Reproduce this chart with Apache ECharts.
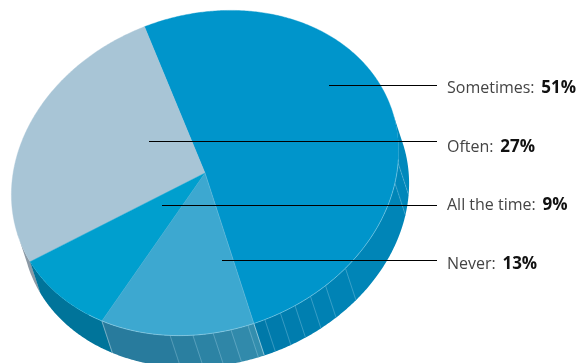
<!DOCTYPE html>
<html>
<head>
<meta charset="utf-8">
<style>html,body{margin:0;padding:0;background:#fff}#c{width:583px;height:363px}</style>
<script src="https://cdn.jsdelivr.net/npm/echarts@6/dist/echarts.min.js"></script>
</head>
<body>
<div id="c"></div>
<script>
// Survey answers, in the order they run anticlockwise round the disc
const categories = ['Sometimes', 'Often', 'All the time', 'Never'];
const shares = [51, 27, 9, 13];
const topColors = ['#0095cb', '#a8c5d6', '#009fce', '#3da8d0'];
// Rim colours at the two ends of each slice's side wall
const wallColorsFrom = ['#0078a8', '#8b9aa6', '#00749a', '#27799b'];
const wallColorsTo = ['#008abd', '#8b9aa6', '#00749a', '#3490b0'];
// Where the facet seams fall on the rim, in ellipse degrees
const rimSeams = [115.5, 108.7, 102.7, 97.4, 92.3, 87.1, 82.2, 77.4, 72.1, 66.6, 58.6, 26.3, 19.2];
// Leader line height, left end and label centre for each slice
const leaderY = [85, 141, 205, 260];
const leaderStartX = [329, 149, 162, 222];
const labelY = [88, 147, 205, 264];

const centre = [205, 173];
const semiMajor = 197.2, semiMinor = 158.2, tilt = -18.6 * Math.PI / 180;
const drop = [10.5, 32];
const firstAngle = 90.5;
const leaderEndX = 437, labelX = 447;

// Point on the tilted rim ellipse at parameter angle deg
function rim(deg, offset) {
  const t = deg * Math.PI / 180;
  const u = semiMajor * Math.cos(t), v = semiMinor * Math.sin(t);
  const o = offset ? drop : [0, 0];
  return [
    centre[0] + u * Math.cos(tilt) - v * Math.sin(tilt) + o[0],
    centre[1] + u * Math.sin(tilt) + v * Math.cos(tilt) + o[1]
  ];
}
function arc(a0, a1, offset) {
  const n = Math.max(2, Math.ceil(Math.abs(a1 - a0) / 0.5));
  const pts = [];
  for (let i = 0; i <= n; i++) pts.push(rim(a0 + (a1 - a0) * i / n, offset));
  return pts;
}
// Start and end angle of slice i; the slices step backwards from firstAngle
function sliceSpan(i) {
  const total = shares.reduce((a, b) => a + b, 0);
  const before = shares.slice(0, i).reduce((a, b) => a + b, 0);
  return [firstAngle - before / total * 360, firstAngle - (before + shares[i]) / total * 360];
}
function mix(c0, c1, k) {
  const p = c => [1, 3, 5].map(j => parseInt(c.substr(j, 2), 16));
  const a = p(c0), b = p(c1);
  return 'rgb(' + a.map((v, j) => Math.round(v + (b[j] - v) * k)).join(',') + ')';
}
function seam(deg, stroke, width) {
  const p = rim(deg, false), q = rim(deg, true);
  return {
    type: 'line',
    shape: { x1: p[0], y1: p[1], x2: q[0], y2: q[1] },
    style: { stroke: stroke, lineWidth: width }
  };
}

function renderWall(params) {
  const i = params.dataIndex;
  let [a0, a1] = sliceSpan(i);
  if (a0 <= 0) { a0 += 360; a1 += 360; }
  // Only the front half of the wall can be seen, so nothing is drawn behind the disc
  const fullA0 = a0, fullA1 = a1;
  a0 = Math.min(a0, 181);
  a1 = Math.max(a1, -1);
  // Cut the span at any seam inside it
  const inside = rimSeams.filter(s => s < a0 && s > a1).sort((x, y) => y - x);
  const cuts = [a0].concat(inside, [a1]);
  const children = [];
  for (let k = 0; k < cuts.length - 1; k++) {
    const fill = mix(wallColorsFrom[i], wallColorsTo[i], (k + 0.5) / (cuts.length - 1));
    children.push({
      type: 'polygon',
      shape: { points: arc(cuts[k] + 0.25, cuts[k + 1], false).concat(arc(cuts[k + 1], cuts[k] + 0.25, true)) },
      style: { fill: fill }
    });
  }
  inside.forEach(c => children.push(seam(c, 'rgba(190,225,240,0.42)', 0.7)));
  // The paler slice's wall is edged at both ends
  if (i === 3) {
    children.push(seam(fullA0, 'rgba(200,230,240,0.6)', 0.8));
    children.push(seam(fullA1, 'rgba(200,230,240,0.75)', 0.9));
  }
  return { type: 'group', children };
}

function renderTop(params) {
  const i = params.dataIndex;
  const [a0, a1] = sliceSpan(i);
  return {
    type: 'polygon',
    shape: { points: [centre].concat(arc(a0, a1, false)) },
    style: { fill: topColors[i], stroke: topColors[i], lineWidth: 0.4 }
  };
}

// Pale highlight running along the front rim and the front radius
function renderHighlights() {
  const p = rim(firstAngle, false);
  return {
    type: 'group',
    children: [{
      type: 'polyline',
      shape: { points: arc(142, 18, false) },
      style: { fill: 'none', stroke: 'rgba(170,220,238,0.6)', lineWidth: 0.8 }
    }, {
      type: 'line',
      shape: { x1: centre[0], y1: centre[1], x2: p[0], y2: p[1] },
      style: { stroke: 'rgba(120,195,225,0.55)', lineWidth: 0.7 }
    }]
  };
}

function renderLeader(params) {
  const i = params.dataIndex;
  return {
    type: 'group',
    children: [{
      type: 'line',
      shape: { x1: leaderStartX[i], y1: leaderY[i] + 0.5, x2: leaderEndX, y2: leaderY[i] + 0.5 },
      style: { stroke: '#000', lineWidth: 1.2 }
    }, {
      type: 'text',
      x: labelX,
      y: labelY[i],
      style: {
        text: '{n|' + categories[i] + ':}  {v|' + shares[i] + '%}',
        verticalAlign: 'middle',
        rich: {
          n: { fontFamily: 'Open Sans', fontSize: 16, fill: '#444', color: '#444' },
          v: { fontFamily: 'Open Sans', fontSize: 17, fontWeight: 'bold', fill: '#111', color: '#111' }
        }
      }
    }]
  };
}

const rows = shares.map((v, i) => [i, v]);
const chart = echarts.init(document.getElementById('c'), null, { renderer: 'canvas' });
chart.setOption({
  animation: false,
  backgroundColor: '#fff',
  series: [
    { type: 'custom', coordinateSystem: 'none', silent: true, z: 1, data: rows, renderItem: renderWall },
    { type: 'custom', coordinateSystem: 'none', silent: true, z: 2, data: rows, renderItem: renderTop },
    { type: 'custom', coordinateSystem: 'none', silent: true, z: 3, data: [[0, 0]], renderItem: renderHighlights },
    { type: 'custom', coordinateSystem: 'none', silent: true, z: 4, data: rows, renderItem: renderLeader }
  ]
});
</script>
</body>
</html>
